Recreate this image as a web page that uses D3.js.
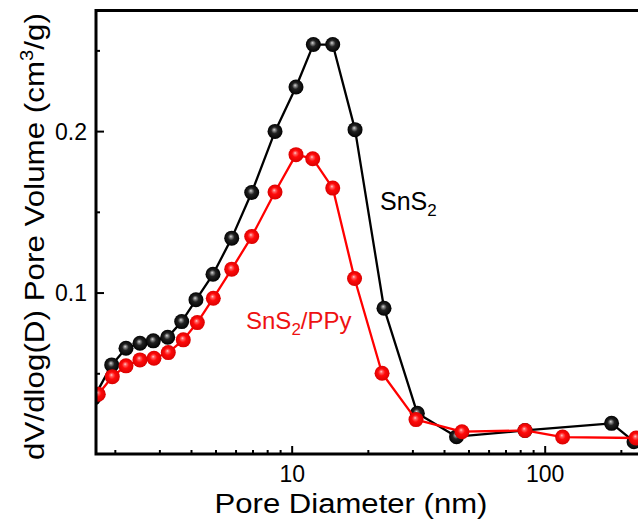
<!DOCTYPE html>
<html>
<head>
<meta charset="utf-8">
<script src="https://cdn.jsdelivr.net/npm/d3@7/dist/d3.min.js"></script>
<style>
html,body{margin:0;padding:0;background:#fff;}
svg{display:block;}
text{font-family:"Liberation Sans",Arial,sans-serif;}
</style>
</head>
<body>
<svg id="chart" width="638" height="529"></svg>
<script>
// ---- data ----
const sns2X = [1.65, 1.944, 2.214, 2.514, 2.838, 3.236, 3.675, 4.185, 4.887, 5.794, 6.95, 8.594, 10.40, 12.18, 14.53, 17.80, 23.17, 31.38, 44.83, 83.6, 183.8, 225.5];
const sns2Y = [0.0347, 0.0552, 0.0655, 0.0686, 0.0701, 0.0723, 0.0820, 0.0955, 0.1113, 0.1337, 0.1620, 0.1998, 0.2273, 0.2536, 0.2536, 0.2009, 0.0903, 0.0252, 0.0107, 0.0146, 0.0190, 0.0076];
const ppyX = [1.720, 1.954, 2.214, 2.514, 2.856, 3.253, 3.729, 4.236, 4.90, 5.794, 6.95, 8.594, 10.40, 12.11, 14.53, 17.72, 22.76, 31.0, 47.1, 83.6, 117.7, 229.7];
const ppyY = [0.0370, 0.0479, 0.0546, 0.0583, 0.0593, 0.0628, 0.0707, 0.0814, 0.0965, 0.1145, 0.1347, 0.1623, 0.1854, 0.1829, 0.1647, 0.1087, 0.0500, 0.0213, 0.0138, 0.0146, 0.0105, 0.0099];
const xMajorTicks = [10, 100];
const xMinorTicks = [2,3,4,5,6,7,8,9,20,30,40,50,60,70,80,90,200,300,400];
const yMajorTicks = [0.1, 0.2];
const yMinorTicks = [0.05, 0.15, 0.25];
const xTickLabels = ["10", "100"];
const yTickLabels = ["0.1", "0.2"];

// ---- layout ----
const svg = d3.select("#chart");
const L = 96, T = 10.5, B = 454, R = 700;
const x = d3.scaleLog().domain([1.685, 411]).range([L, R]);
const y = d3.scaleLinear().domain([0, 0.2747]).range([B, T]);

const defs = svg.append("defs");
defs.append("clipPath").attr("id","clip").append("rect")
  .attr("x", L).attr("y", 0).attr("width", 700).attr("height", B);

function grad(id, stops){
  const g = defs.append("radialGradient").attr("id", id)
    .attr("cx","0.5").attr("cy","0.5").attr("r","0.52")
    .attr("fx","0.44").attr("fy","0.38");
  stops.forEach(s => g.append("stop").attr("offset", s[0]).attr("stop-color", s[1]));
}
grad("gBlack", [[0,"#d8d8d8"],[0.16,"#8a8a8a"],[0.42,"#222"],[1,"#000"]]);
grad("gRed", [[0,"#ffd0d0"],[0.18,"#ff6060"],[0.45,"#ff0a0a"],[1,"#d80000"]]);

const plot = svg.append("g").attr("clip-path","url(#clip)");

function series(xs, ys, color, gradId){
  const pts = xs.map((d,i)=>[d, ys[i]]);
  const line = d3.line().x(d=>x(d[0])).y(d=>y(d[1]));
  plot.append("path").datum(pts).attr("d", line)
    .attr("fill","none").attr("stroke", color).attr("stroke-width", 2.3)
    .attr("stroke-linejoin","round");
  plot.selectAll(null).data(pts).enter().append("circle")
    .attr("cx", d=>x(d[0])).attr("cy", d=>y(d[1])).attr("r", 7.5)
    .attr("fill", `url(#${gradId})`);
}
series(sns2X, sns2Y, "#000", "gBlack");
series(ppyX, ppyY, "#ff0000", "gRed");

// ---- axes ----
const fmtX = d => xTickLabels[xMajorTicks.indexOf(d)];
const fmtY = d => yTickLabels[yMajorTicks.indexOf(d)];

const xAxisMaj = svg.append("g").attr("transform",`translate(0,${B})`)
  .call(d3.axisBottom(x).tickValues(xMajorTicks).tickFormat(fmtX).tickSize(-8).tickPadding(14));
const xAxisMin = svg.append("g").attr("transform",`translate(0,${B})`)
  .call(d3.axisBottom(x).tickValues(xMinorTicks).tickFormat("").tickSize(-4));
const yAxisMaj = svg.append("g").attr("transform",`translate(${L},0)`)
  .call(d3.axisLeft(y).tickValues(yMajorTicks).tickFormat(fmtY).tickSize(-8).tickPadding(9));
const yAxisMin = svg.append("g").attr("transform",`translate(${L},0)`)
  .call(d3.axisLeft(y).tickValues(yMinorTicks).tickFormat("").tickSize(-4));

[xAxisMaj,xAxisMin,yAxisMaj,yAxisMin].forEach(a=>{
  a.select(".domain").remove();
  a.selectAll(".tick line").attr("stroke","#000").attr("stroke-width",2);
  a.selectAll("text").attr("fill","#000").style("font-size","23px")
   .style("font-family",'"Liberation Sans",Arial,sans-serif');
});
xAxisMaj.selectAll("text").attr("dy", null).attr("y", 28);
yAxisMaj.selectAll("text").attr("dy", "0.36em");

// frame
svg.append("path")
  .attr("d", `M${R},${T}H${L}V${B}H${R}`)
  .attr("fill","none").attr("stroke","#000").attr("stroke-width",3);

// axis titles
svg.append("g").attr("transform","translate(351,513) scale(1.11,1)")
  .append("text").attr("text-anchor","middle").attr("font-size",28).attr("fill","#000")
  .text("Pore Diameter (nm)");

const yt = svg.append("g").attr("transform","translate(43.5,236.5) rotate(-90) scale(1.12,1)")
  .append("text").attr("text-anchor","middle").attr("font-size",28).attr("fill","#000");
yt.append("tspan").text("dV/dlog(D) Pore Volume (cm");
yt.append("tspan").attr("font-size",18).attr("dy",-11).text("3");
yt.append("tspan").attr("dy",11).text("/g)");

// annotations
const a1 = svg.append("text").attr("x",380).attr("y",210).attr("font-size",25).attr("fill","#000");
a1.append("tspan").text("SnS");
a1.append("tspan").attr("font-size",17).attr("dy",6).text("2");

const a2 = svg.append("text").attr("x",246).attr("y",329).attr("font-size",24).attr("fill","#ee1111");
a2.append("tspan").text("SnS");
a2.append("tspan").attr("font-size",17).attr("dy",6).text("2");
a2.append("tspan").attr("dy",-6).text("/PPy");
</script>
</body>
</html>
